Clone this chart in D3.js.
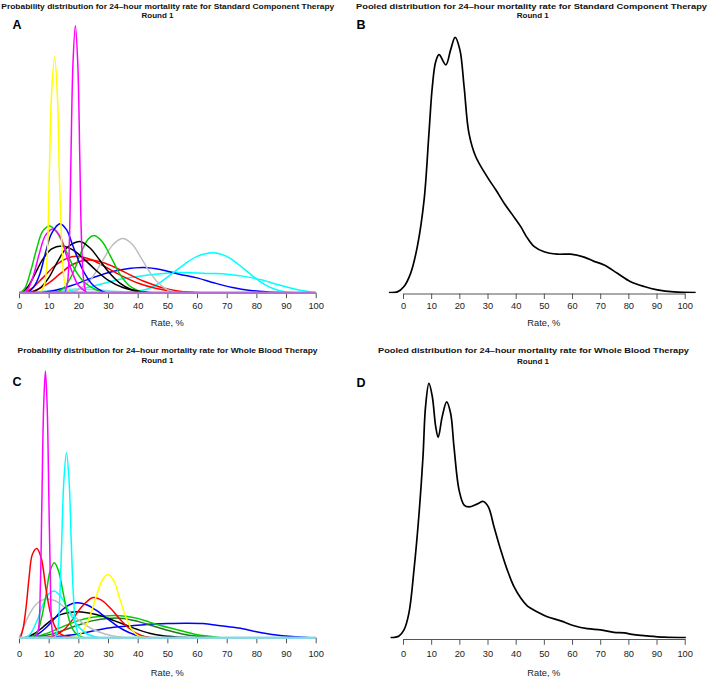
<!DOCTYPE html>
<html><head><meta charset="utf-8">
<script src="https://cdn.jsdelivr.net/npm/d3@7"></script>
<style>body{margin:0;background:#fff}svg{display:block}</style>
</head><body><svg id="c" width="709" height="677"></svg>
<script>
// ---------- data ----------
const xTicks = [0,10,20,30,40,50,60,70,80,90,100];
const xLabel = "Rate, %";
const titleA = ["Probability distribution for 24\u2013hour mortality rate for Standard Component Therapy","Round 1"];
const titleB = ["Pooled distribution for 24\u2013hour mortality rate for Standard Component Therapy","Round 1"];
const titleC = ["Probability distribution for 24\u2013hour mortality rate for Whole Blood Therapy","Round 1"];
const titleD = ["Pooled distribution for 24\u2013hour mortality rate for Whole Blood Therapy","Round 1"];

// Panel A: individual expert densities [rate %, density]
const a_cyan2   = [[8,0],[15,0.002],[22,0.006],[28,0.012],[34,0.018],[40,0.022],[46,0.025],[52,0.027],[58,0.027],[64,0.026],[70,0.025],[76,0.022],[82,0.017],[88,0.01],[94,0.004],[100,0]];
const a_teal    = [[3,0],[8,0.002],[14,0.004],[20,0.005],[26,0.004],[32,0.002],[40,0]];
const a_blue2   = [[7,0],[12,0.003],[18,0.01],[24,0.019],[30,0.027],[36,0.032],[42,0.034],[48,0.031],[54,0.025],[60,0.02],[66,0.013],[72,0.007],[78,0.003],[84,0.001],[89,0]];
const a_cyan1   = [[36,0],[40,0.002],[44,0.006],[48,0.015],[52,0.027],[56,0.039],[60,0.049],[65.5,0.054],[70,0.049],[74,0.038],[78,0.025],[82,0.013],[86,0.005],[90,0.001],[94,0]];
const a_red1    = [[2,0],[5,0.008],[8,0.02],[12,0.036],[16,0.046],[19.4,0.049],[24,0.045],[29,0.035],[34,0.024],[40,0.013],[46,0.006],[52,0.002],[60,0]];
const a_red2    = [[3,0],[6,0.004],[10,0.013],[14,0.026],[18,0.038],[23.4,0.044],[28,0.041],[33,0.033],[38,0.023],[43,0.014],[48,0.007],[54,0.002],[62,0]];
const a_gray    = [[17,0],[20,0.004],[24,0.017],[28,0.042],[31.5,0.064],[34.8,0.073],[38,0.066],[41,0.048],[44,0.028],[47,0.013],[50,0.004],[54,0]];
const a_green2  = [[12,0],[15,0.006],[18,0.025],[21,0.055],[23.5,0.073],[25.3,0.077],[28,0.069],[31,0.048],[34,0.025],[37,0.01],[40,0.003],[43,0]];
const a_black1  = [[1,0],[3,0.008],[5,0.022],[8,0.045],[11,0.059],[14.5,0.063],[18,0.058],[22,0.045],[26,0.03],[30,0.017],[35,0.007],[40,0.002],[45,0]];
const a_black2  = [[4,0],[7,0.006],[10,0.02],[13,0.042],[16,0.06],[20.5,0.069],[24,0.06],[27,0.045],[30,0.029],[34,0.013],[38,0.004],[44,0]];
const a_green1  = [[0.5,0],[2,0.006],[4,0.03],[6,0.06],[8,0.083],[10.4,0.09],[13,0.08],[16,0.055],[19,0.03],[22,0.014],[26,0.004],[30,0]];
const a_magenta2= [[1.5,0],[3,0.005],[5,0.025],[7,0.055],[9,0.078],[11.5,0.086],[14,0.075],[16,0.05],[18,0.027],[20,0.01],[23,0]];
const a_blue1   = [[3,0],[5,0.008],[7,0.025],[9,0.055],[11,0.08],[13.8,0.093],[16,0.085],[18,0.065],[20,0.044],[22,0.027],[25,0.01],[29,0]];
const a_yellow  = [[7,0],[8.5,0.01],[9.5,0.05],[10.2,0.159],[11,0.27],[12,0.318],[13,0.26],[13.6,0.159],[14.5,0.06],[15.5,0.012],[17,0]];
const a_magenta1= [[15.5,0],[16.4,0.015],[17,0.07],[17.5,0.18],[18.2,0.31],[19,0.36],[19.8,0.31],[20.5,0.18],[21,0.08],[21.7,0.02],[22.5,0]];
const curvesA = [a_cyan2,a_teal,a_blue2,a_cyan1,a_red1,a_red2,a_gray,a_green2,a_black1,a_black2,a_green1,a_magenta2,a_blue1,a_yellow,a_magenta1];
const colorsA = ["#00FFFF","#7FE3E3","#0000FF","#00FFFF","#FF0000","#FF0000","#BEBEBE","#00CD00","#000000","#000000","#00CD00","#FF00FF","#0000FF","#FFFF00","#FF00FF"];

// Panel C: individual expert densities [rate %, density]
const c_blue2   = [[8,0],[14,0.002],[20,0.005],[26,0.01],[32,0.014],[38,0.016],[44,0.018],[50,0.019],[56,0.0195],[62,0.019],[68,0.016],[74,0.013],[80,0.008],[86,0.004],[92,0.0015],[98,0]];
const c_green2  = [[4,0],[8,0.004],[12,0.01],[16,0.017],[20,0.023],[24,0.027],[28,0.029],[32,0.03],[36,0.029],[40,0.026],[44,0.021],[48,0.016],[52,0.012],[56,0.008],[60,0.004],[64,0.002],[68,0]];
const c_green3  = [[5,0],[10,0.004],[15,0.01],[20,0.017],[25,0.023],[30,0.026],[35,0.026],[40,0.022],[45,0.016],[50,0.01],[55,0.005],[60,0.002],[66,0]];
const c_black   = [[2,0],[5,0.005],[8,0.014],[11,0.024],[14,0.031],[17,0.034],[20,0.035],[24,0.033],[28,0.029],[32,0.023],[36,0.017],[40,0.011],[44,0.006],[48,0.003],[53,0.001],[58,0]];
const c_gray    = [[0,0],[1,0.008],[2,0.019],[4,0.035],[6,0.046],[9,0.052],[12,0.05],[15,0.042],[18,0.031],[21,0.021],[25,0.011],[29,0.005],[34,0.001],[38,0]];
const c_blue1   = [[3,0],[6,0.004],[9,0.013],[12,0.026],[15,0.039],[18,0.046],[20,0.047],[23,0.044],[26,0.037],[29,0.028],[32,0.019],[35,0.011],[39,0.004],[44,0]];
const c_red2    = [[9,0],[12,0.003],[15,0.01],[18,0.024],[21,0.041],[25,0.054],[28,0.05],[31,0.039],[34,0.025],[37,0.013],[40,0.005],[43,0.001],[46,0]];
const c_yellow  = [[17,0],[20,0.003],[22,0.012],[24,0.03],[26,0.055],[28,0.077],[30,0.085],[32,0.076],[34,0.052],[36,0.028],[38,0.011],[40,0.003],[43,0]];
const c_cyan2   = [[2.5,0],[4,0.006],[6,0.022],[8,0.044],[10,0.059],[11.8,0.063],[14,0.056],[16,0.042],[18,0.027],[20,0.015],[23,0.005],[27,0]];
const c_green1  = [[4,0],[6,0.006],[7.5,0.025],[9,0.055],[10.5,0.09],[11.9,0.101],[13.3,0.09],[15,0.058],[16.5,0.03],[18,0.012],[20,0.003],[22,0]];
const c_red1    = [[0.5,0],[1.5,0.015],[2.5,0.045],[3.5,0.085],[4.5,0.112],[6,0.12],[7.5,0.107],[9,0.068],[10.5,0.035],[12,0.016],[14,0.005],[17,0.001],[19,0]];
const c_cyan1   = [[12,0],[13,0.01],[13.8,0.06],[14.4,0.13],[15.1,0.21],[16,0.249],[16.9,0.21],[17.6,0.13],[18.3,0.06],[19.2,0.015],[20.5,0]];
const c_magenta = [[5.5,0],[6.5,0.01],[7.2,0.07],[7.7,0.18],[8.3,0.31],[8.9,0.359],[9.5,0.31],[10.1,0.18],[10.6,0.07],[11.2,0.01],[12,0]];
const curvesC = [c_blue2,c_green2,c_green3,c_black,c_gray,c_blue1,c_red2,c_yellow,c_cyan2,c_green1,c_red1,c_cyan1,c_magenta];
const colorsC = ["#0000FF","#00CD00","#1E7A1E","#000000","#BEBEBE","#0000FF","#FF0000","#FFFF00","#00FFFF","#00CD00","#FF0000","#00FFFF","#FF00FF"];

// Panel B: pooled density
const pooledB = [[-5,0],[-2,0.0001],[0.35,0.001],[2.7,0.0032],[5.1,0.0077],[7.5,0.0155],[9.2,0.0265],[10.4,0.0343],[11.6,0.0385],[12.8,0.0397],[15.2,0.038],[16.9,0.0405],[18.5,0.0426],[20.2,0.0405],[21.7,0.0343],[23.4,0.0266],[25.8,0.0227],[29.9,0.0193],[33,0.0171],[35.9,0.0149],[38.8,0.013],[41.8,0.011],[44,0.0092],[46.5,0.0077],[50.1,0.0068],[54.8,0.0064],[59.5,0.0064],[64.3,0.0059],[67.8,0.0052],[71.4,0.0046],[76.1,0.0032],[80.8,0.0018],[85.6,0.001],[90.3,0.00045],[96.2,0.0001],[103.9,0]];
// Panel D: pooled density
const pooledD = [[-4.4,0],[-1.4,0.0003],[0.35,0.0013],[2.1,0.0041],[3.9,0.0113],[5.7,0.0207],[7.1,0.0302],[8.0,0.0385],[9.2,0.0424],[10.4,0.0402],[11.6,0.0352],[12.5,0.0334],[13.9,0.0368],[15.5,0.0393],[16.9,0.0374],[18.1,0.0318],[19.9,0.0246],[21.7,0.0221],[23.4,0.0218],[26.4,0.0223],[28.5,0.0227],[30.3,0.0218],[32.3,0.0185],[34.7,0.0146],[37.0,0.0113],[39.4,0.0085],[41.8,0.0066],[44.1,0.0053],[47.7,0.0043],[51.2,0.0035],[56.0,0.0028],[60.7,0.002],[65.4,0.0015],[70.2,0.0013],[74.9,0.0009],[78.5,0.0008],[82.0,0.0005],[86.7,0.0003],[92.7,0.0001],[100.4,0]];

// ---------- drawing ----------
const svg = d3.select("#c");
const FONT = "'Liberation Sans', Arial, Helvetica, sans-serif";

function panel(cfg){
  const g = svg.append("g");
  const x = d3.scaleLinear().domain([0,100]).range([cfg.x0, cfg.x1]);
  const allMax = d3.max(cfg.curves, c => d3.max(c, d => d[1]));
  const y = d3.scaleLinear().domain([0, allMax]).range([cfg.base, cfg.top]);
  const line = d3.line().x(d => x(d[0])).y(d => Math.min(cfg.base, y(d[1]))).curve(d3.curveCatmullRom.alpha(0.5));

  // axis
  const ax = g.append("g").attr("transform", `translate(0,${cfg.axisY})`)
    .call(d3.axisBottom(x).tickValues(xTicks).tickSize(cfg.tickLen).tickSizeOuter(0).tickPadding(cfg.tickPad));
  ax.select(".domain").attr("stroke","#555").attr("stroke-width",1);
  ax.selectAll(".tick line").attr("stroke","#555").attr("stroke-width",1);
  ax.selectAll(".tick text").attr("fill","#222").style("font-family",FONT).style("font-size","9.3px");

  // curves
  const clipId = "clip" + cfg.letter;
  svg.append("clipPath").attr("id", clipId).append("rect")
    .attr("x", 0).attr("y", 0).attr("width", 709).attr("height", cfg.base + 0.8);
  const cg = g.append("g").attr("clip-path", `url(#${clipId})`);
  cfg.curves.forEach((c,i) => {
    cg.append("path").datum(c).attr("d", line)
      .attr("fill","none").attr("stroke", cfg.colors[i])
      .attr("stroke-width", cfg.lw).attr("stroke-linejoin","round");
  });
  if (cfg.baseColor) {
    g.append("path").datum([[0,0],[100,0]]).attr("d", d3.line().x(d=>x(d[0])).y(d=>y(d[1])))
      .attr("stroke", cfg.baseColor).attr("stroke-width", 2.4).attr("fill","none");
  }

  // x label
  g.append("text").attr("x", (cfg.x0+cfg.x1)/2).attr("y", cfg.xlabY).attr("text-anchor","middle")
    .style("font-family",FONT).style("font-size","9.3px").attr("fill","#222").text(xLabel);

  // titles
  g.append("text").attr("x", cfg.t1x).attr("y", cfg.t1y).attr("text-anchor","middle")
    .attr("textLength", cfg.t1w).attr("lengthAdjust","spacingAndGlyphs")
    .style("font-family",FONT).style("font-size","8px").style("font-weight","bold").attr("fill","#111").text(cfg.title[0]);
  g.append("text").attr("x", cfg.t2x).attr("y", cfg.t2y).attr("text-anchor","middle")
    .style("font-family",FONT).style("font-size","8px").style("font-weight","bold").attr("fill","#111").text(cfg.title[1]);

  // panel letter
  g.append("text").attr("x", cfg.lx).attr("y", cfg.ly)
    .style("font-family",FONT).style("font-size","12.5px").style("font-weight","bold").attr("fill","#000").text(cfg.letter);
}

panel({curves:curvesA, colors:colorsA, x0:19, x1:315.7, base:292.7, top:25.7, axisY:292.7, tickLen:5.5, tickPad:4.5,
  lw:1.5, baseColor:"#B46FD2", xlabY:326, title:titleA, t1x:167.8, t1y:8.6, t1w:333, t2x:157.5, t2y:17.8,
  letter:"A", lx:12.5, ly:29.3});
panel({curves:[pooledB], colors:["#000"], x0:403, x1:684.7, base:292.5, top:37.3, axisY:293.5, tickLen:5.5, tickPad:3.7,
  lw:1.7, baseColor:null, xlabY:326, title:titleB, t1x:531.5, t1y:8.6, t1w:351, t2x:532.8, t2y:18.3,
  letter:"B", lx:356.5, ly:29.3});
panel({curves:curvesC, colors:colorsC, x0:19, x1:315.7, base:637.7, top:371, axisY:637.7, tickLen:5.6, tickPad:6.8,
  lw:1.5, baseColor:"#8AD6E2", xlabY:675.5, title:titleC, t1x:167.5, t1y:353, t2x:157.5, t2y:362.5, t1w:300,
  letter:"C", lx:12.5, ly:385.7});
panel({curves:[pooledD], colors:["#000"], x0:403, x1:684.7, base:637.7, top:383.3, axisY:639, tickLen:5.8, tickPad:5.3,
  lw:1.7, baseColor:null, xlabY:675.5, title:titleD, t1x:533.5, t1y:353, t2x:533, t2y:364, t1w:311,
  letter:"D", lx:356.5, ly:387.3});
</script>
</body></html>
